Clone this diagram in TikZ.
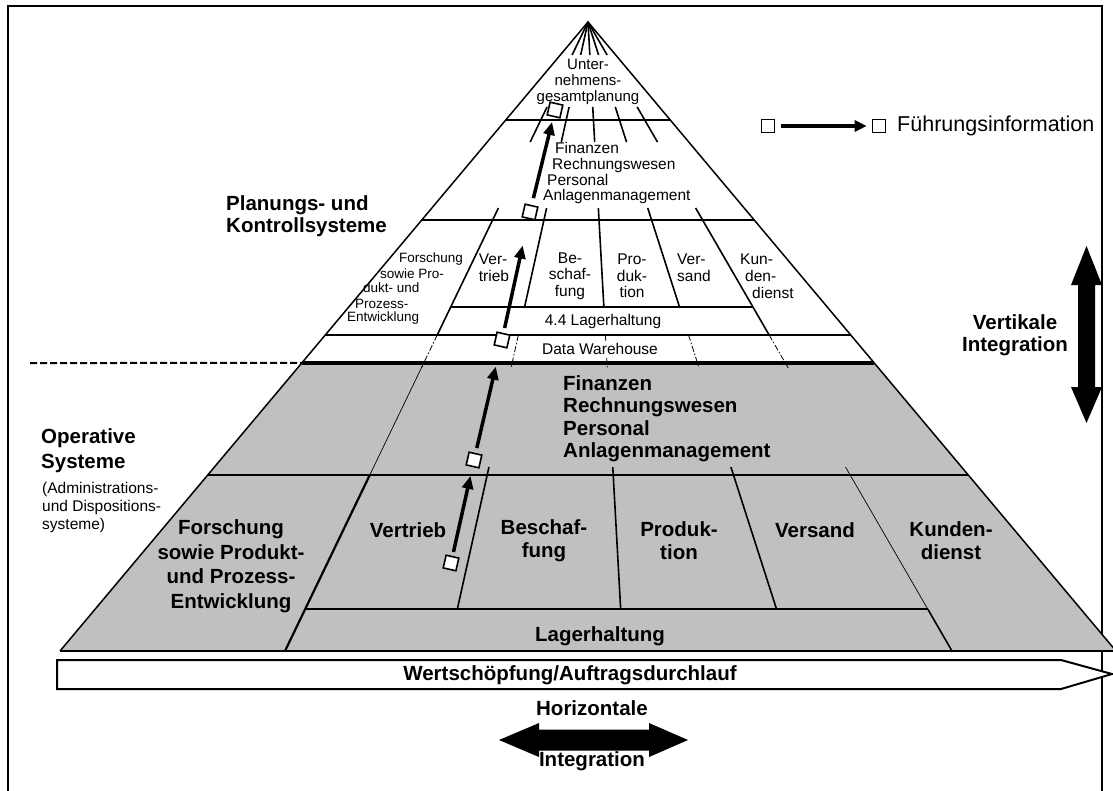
\documentclass[tikz,border=0pt]{standalone}
\usepackage{fontspec}
\setmainfont{Liberation Sans}
\usetikzlibrary{calc,arrows.meta}
\definecolor{opgray}{RGB}{192,192,192}
\tikzset{
  edge line/.style={line width=1.5pt},
  level line/.style={line width=1.8pt},
  divider/.style={line width=1.6pt},
  thin divider/.style={line width=0.7pt},
  dw divider/.style={line width=0.8pt, dash pattern=on 6pt off 2pt on 1.5pt off 2pt},
  small text/.style={inner sep=0pt, font=\fontsize{15.5}{16.5}\selectfont},
  tiny text/.style={inner sep=0pt, anchor=west, font=\fontsize{13.5}{14.5}\selectfont},
  big text/.style={inner sep=0pt, font=\fontsize{20.5}{24}\selectfont\bfseries},
  info box/.style={draw, fill=white, line width=1.6pt, minimum size=13pt, inner sep=0pt, rotate=-13},
  legend box/.style={draw, fill=white, line width=1.6pt, minimum size=13pt, inner sep=0pt},
  info arrow/.style={line width=3.5pt, -{Triangle[length=13pt,width=11pt]}},
}
\begin{document}
\begin{tikzpicture}[x=1pt,y=-1pt]
\useasboundingbox (0,0) rectangle (1113,790);
\clip (0,0) rectangle (1113,790);

% Frame
\draw[line width=2pt] (8,6) rectangle (1102,800);

% Pyramid corners and base points of the five column dividers
\coordinate (apex) at (588,22);
\coordinate (bl) at (60,651);
\coordinate (br) at (1116,651);
\coordinate (d1) at (285,651);
\coordinate (d2) at (448,651);
\coordinate (d3) at (623,651);
\coordinate (d4) at (790,651);
\coordinate (d5) at (952,651);

% Grey part: operative systems
\fill[opgray] ($(apex)!0.5421!(bl)$) -- ($(apex)!0.5421!(br)$) -- (br) -- (bl) -- cycle;

% Pyramid outline
\draw[edge line] (bl) -- (apex) -- (br);

% Horizontal level lines
\draw[level line] ($(apex)!0.1558!(bl)$) -- ($(apex)!0.1558!(br)$);
\draw[level line] ($(apex)!0.3148!(bl)$) -- ($(apex)!0.3148!(br)$);
\draw[level line] ($(apex)!0.4531!(d1)$) -- ($(apex)!0.4531!(d5)$);
\draw[line width=2.8pt] ($(apex)!0.4976!(bl)$) -- ($(apex)!0.4976!(br)$);
\draw[line width=3.6pt] ($(apex)!0.5421!(bl)$) -- ($(apex)!0.5421!(br)$);
\draw[level line] ($(apex)!0.7202!(bl)$) -- ($(apex)!0.7202!(br)$);
\draw[level line] ($(apex)!0.9332!(d1)$) -- ($(apex)!0.9332!(d5)$);
\draw[line width=2.6pt] (bl) -- (br);

% Border between planning and operative systems
\draw[line width=2pt, dash pattern=on 7pt off 3pt] (30,363) -- ($(apex)!0.5421!(bl)$);

% Column dividers near the apex and across the first line
\foreach \d in {d1,d2,d3,d4,d5} {
  \draw[divider] (apex) -- ($(apex)!0.0525!(\d)$);
  \draw[divider] ($(apex)!0.1351!(\d)$) -- ($(apex)!0.1908!(\d)$);
  \draw[dw divider] ($(apex)!0.4976!(\d)$) -- ($(apex)!0.5501!(\d)$);
}

% Column dividers of the planning level
\draw[divider] ($(apex)!0.2957!(d1)$) -- ($(apex)!0.4976!(d1)$);
\draw[divider] ($(apex)!0.2957!(d2)$) -- ($(apex)!0.4531!(d2)$);
\draw[divider] ($(apex)!0.2957!(d3)$) -- ($(apex)!0.4531!(d3)$);
\draw[divider] ($(apex)!0.2957!(d4)$) -- ($(apex)!0.4531!(d4)$);
\draw[divider] ($(apex)!0.2957!(d5)$) -- ($(apex)!0.4976!(d5)$);

% Column dividers of the operative level
\draw[thin divider] ($(apex)!0.5421!(d1)$) -- ($(apex)!0.7202!(d1)$);
\draw[line width=2.2pt] ($(apex)!0.7202!(d1)$) -- (d1);
\draw[divider] ($(apex)!0.7075!(d2)$) -- ($(apex)!0.9332!(d2)$);
\draw[divider] ($(apex)!0.7075!(d3)$) -- ($(apex)!0.9332!(d3)$);
\draw[divider] ($(apex)!0.7075!(d4)$) -- ($(apex)!0.9332!(d4)$);
\draw[thin divider] ($(apex)!0.7075!(d5)$) -- ($(apex)!0.9332!(d5)$);
\draw[divider] ($(apex)!0.9332!(d5)$) -- (d5);

% Top of the pyramid
\node[small text, align=center, font=\fontsize{15}{16}\selectfont] (ugp) at (588,81.5) {Unter-\\nehmens-\\gesamtplanung};

% Second level
\node[small text, anchor=west] (fin2) at (555,148) {Finanzen};
\node[small text, anchor=west] (rw2) at (552,165) {Rechnungswesen};
\node[small text, anchor=west] (pe2) at (547,180) {Personal};
\node[small text, anchor=west] (al2) at (543,196) {Anlagenmanagement};

% Third level
\node[tiny text] (fo1) at (399,259) {Forschung};
\node[tiny text] (fo2) at (380,274) {sowie Pro-};
\node[tiny text] (fo3) at (363,288) {dukt- und};
\node[tiny text] (fo4) at (355,304) {Prozess-};
\node[tiny text] (fo5) at (347,318) {Entwicklung};
\node[small text, align=left] (vt3) at (494,267.5) {Ver-\\trieb};
\node[small text, align=center] (bs3) at (570,276) {Be-\\schaf-\\fung};
\node[small text, align=center] (pr3) at (632,276) {Pro-\\duk-\\tion};
\node[small text, align=left, anchor=west] (vs3) at (677,267.5) {Ver-\\sand};
\node[small text, anchor=west] (kd3a) at (740,259) {Kun-};
\node[small text, anchor=west] (kd3b) at (745,276) {den-};
\node[small text, anchor=west] (kd3c) at (752,293) {dienst};
\node[small text] (lh3) at (603,321) {4.4 Lagerhaltung};
\node[small text, fill=white, inner sep=1pt] (dwh) at (600,349) {Data Warehouse};

% Labels left of the pyramid
\node[big text, align=left, anchor=west, font=\fontsize{20.5}{22}\selectfont\bfseries] (pks) at (226,216) {Planungs- und\\Kontrollsysteme};
\node[big text, align=left, anchor=west, font=\fontsize{20.5}{25}\selectfont\bfseries] (ops) at (41,451) {Operative\\Systeme};
\node[small text, align=left, anchor=west, font=\fontsize{15.5}{18}\selectfont] (ads) at (42,507) {(Administrations-\\und Dispositions-\\systeme)};

% Operative level
\node[big text, align=left, anchor=west, font=\fontsize{20.5}{22.5}\selectfont\bfseries] (fin1) at (563,418.5) {Finanzen\\Rechnungswesen\\Personal\\Anlagenmanagement};
\node[big text, align=center, font=\fontsize{20.5}{24.5}\selectfont\bfseries] (fo0) at (231,566) {Forschung\\sowie Produkt-\\und Prozess-\\Entwicklung};
\node[big text] (vt1) at (408,530) {Vertrieb};
\node[big text, align=center, font=\fontsize{20.5}{23}\selectfont\bfseries] (bs1) at (544,541) {Beschaf-\\fung};
\node[big text, align=center, font=\fontsize{20.5}{23}\selectfont\bfseries] (pr1) at (679,541) {Produk-\\tion};
\node[big text] (vs1) at (815,530) {Versand};
\node[big text, align=center, font=\fontsize{20.5}{23}\selectfont\bfseries] (kd1) at (951,541) {Kunden-\\dienst};
\node[big text] (lh1) at (600,636) {Lagerhaltung};

% Value chain arrow
\draw[line width=2pt, fill=white] (57,660) -- (1061,660) -- (1112,674) -- (1061,689) -- (57,689) -- cycle;
\node[big text] (wsk) at (570,675) {Wertschöpfung/Auftragsdurchlauf};

% Horizontal integration
\node[big text] (hor) at (592,708) {Horizontale};
\fill (499,740) -- (539,723) -- (539,729.5) -- (649,729.5) -- (649,723) -- (688,740) -- (649,757) -- (649,750.5) -- (539,750.5) -- (539,757) -- cycle;
\node[big text] (hint) at (592,761) {Integration};

% Vertical integration
\fill (1086.5,246) -- (1102,285) -- (1095,285) -- (1095,387) -- (1102,387) -- (1086.5,423) -- (1071,387) -- (1078,387) -- (1078,285) -- (1071,285) -- cycle;
\node[big text, align=center, font=\fontsize{20.5}{22}\selectfont\bfseries] (vint) at (1015,335) {Vertikale\\Integration};

% Flow of management information
\node[info box] (sq1) at (451,563) {};
\node[info box] (sq2) at (474,460) {};
\node[info box] (sq3) at (502,340) {};
\node[info box] (sq4) at (530,212) {};
\node[info box] (sq5) at (555,110) {};
\draw[info arrow, shorten <=4pt, shorten >=9pt] (sq1) -- (sq2);
\draw[info arrow, shorten <=5pt, shorten >=20pt] (sq2) -- (sq3);
\draw[info arrow, shorten <=5pt, shorten >=27pt] (sq3) -- (sq4);
\draw[info arrow, shorten <=7pt, shorten >=5pt] (sq4) -- (sq5);

% Legend
\node[legend box] (lg1) at (768,126) {};
\node[legend box] (lg2) at (879,126) {};
\draw[line width=3.5pt, -{Triangle[length=12pt,width=11pt]}, shorten <=6pt, shorten >=5pt] (lg1) -- (lg2);
\node[anchor=west, inner sep=0pt, font=\fontsize{21.5}{23}\selectfont] (lgt) at (897,126) {Führungsinformation};
\end{tikzpicture}
\end{document}
